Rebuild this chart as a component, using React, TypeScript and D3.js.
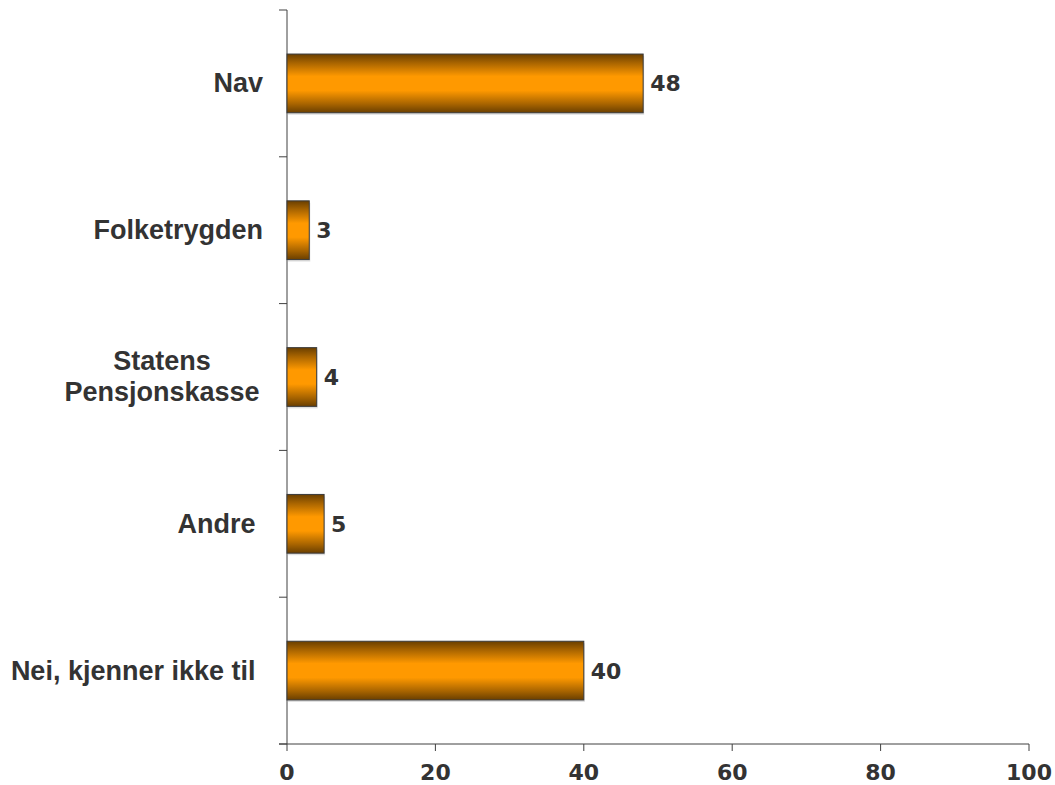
import React from "react";
import * as d3 from "d3";

const categories = ["Nav", "Folketrygden", "Statens Pensjonskasse", "Andre", "Nei, kjenner ikke til"];
const labelLines = [["Nav"], ["Folketrygden"], ["Statens", "Pensjonskasse"], ["Andre "], ["Nei, kjenner ikke til "]];
const values = [48, 3, 4, 5, 40];
const xTicks = [0, 20, 40, 60, 80, 100];

export default function App() {
  const W = 1055, H = 785;
  const left = 287, right = 1029, top = 10, bottom = 744;
  const x = d3.scaleLinear().domain([0, 100]).range([left, right]);
  const y = d3.scaleBand().domain(categories).range([top, bottom]).paddingInner(0.6).paddingOuter(0.3);
  const bandEdges = d3.range(categories.length + 1).map((i) => top + (i * (bottom - top)) / categories.length);
  const axisColor = "#404040";
  const textColor = "#333333";
  return (
    <svg width={W} height={H} style={{ position: "absolute", left: 0, top: 0 }}>
      <defs>
        <linearGradient id="barGrad" x1="0" y1="0" x2="0" y2="1">
          <stop offset="0" stopColor="#6a3f00" />
          <stop offset="0.15" stopColor="#a86400" />
          <stop offset="0.38" stopColor="#ff9900" />
          <stop offset="0.62" stopColor="#ff9900" />
          <stop offset="0.85" stopColor="#a86400" />
          <stop offset="1" stopColor="#6a3f00" />
        </linearGradient>
      </defs>
      <rect width={W} height={H} fill="#ffffff" />
      {/* y axis */}
      <line x1={left} x2={left} y1={top} y2={bottom} stroke={axisColor} strokeWidth={1} />
      {bandEdges.map((b, i) => (
        <line key={"yt" + i} x1={left - 8} x2={left} y1={b} y2={b} stroke={axisColor} strokeWidth={1} />
      ))}
      {/* x axis */}
      <line x1={left - 8} x2={right} y1={bottom} y2={bottom} stroke={axisColor} strokeWidth={1} />
      {xTicks.map((t) => (
        <g key={"xt" + t}>
          <line x1={x(t)} x2={x(t)} y1={bottom} y2={bottom + 7} stroke={axisColor} strokeWidth={1} />
          <text x={x(t)} y={780} textAnchor="middle" fontFamily="'DejaVu Sans', Verdana, sans-serif" fontWeight="bold" fontSize={22} fill={textColor}>
            {t}
          </text>
        </g>
      ))}
      {/* bars */}
      {categories.map((c, i) => {
        const y0 = y(c)!;
        const bw = y.bandwidth();
        return (
          <g key={c}>
            <rect x={x(0) + 1} y={y0 + 2} width={x(values[i]) - x(0)} height={bw} fill="#c0c0c0" opacity={0.5} />
            <rect x={x(0)} y={y0} width={x(values[i]) - x(0)} height={bw} fill="url(#barGrad)" stroke="#3a3a3a" strokeWidth={1} />
            <text x={x(values[i]) + 7} y={y0 + bw / 2} dy="0.36em" fontFamily="'DejaVu Sans', Verdana, sans-serif" fontWeight="bold" fontSize={22} fill={textColor}>
              {values[i]}
            </text>
            {labelLines[i].map((ln, j) => {
              const n = labelLines[i].length;
              const lh = 31;
              const cy = y0 + bw / 2 + (j - (n - 1) / 2) * lh;
              return (
                <text key={j} x={n > 1 ? 162 : 263} y={cy} dy="0.33em" textAnchor={n > 1 ? "middle" : "end"} fontFamily="'Liberation Sans', Arial, sans-serif" fontWeight="bold" fontSize={27} fill={textColor} style={{ whiteSpace: "pre" }}>
                  {ln}
                </text>
              );
            })}
          </g>
        );
      })}
    </svg>
  );
}
